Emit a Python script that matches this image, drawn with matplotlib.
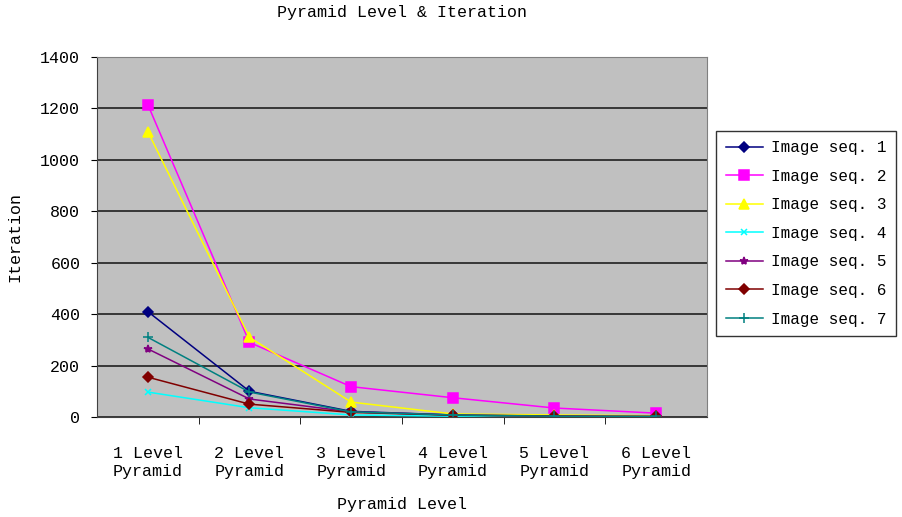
import matplotlib
matplotlib.use("Agg")
import matplotlib.pyplot as plt

# categories and series
levels = ["1 Level\nPyramid", "2 Level\nPyramid", "3 Level\nPyramid",
          "4 Level\nPyramid", "5 Level\nPyramid", "6 Level\nPyramid"]
seq1 = [410, 100, 22, 8, 4, 2]
seq2 = [1215, 290, 118, 75, 35, 15]
seq3 = [1110, 310, 58, 12, 8, 5]
seq4 = [97, 36, 8, 3, 2, 1]
seq5 = [265, 70, 20, 8, 4, 2]
seq6 = [155, 50, 18, 7, 3, 2]
seq7 = [310, 97, 20, 8, 3, 2]
names = ["Image seq. %d" % i for i in range(1, 8)]

series = [seq1, seq2, seq3, seq4, seq5, seq6, seq7]
colors = ["#000080", "#FF00FF", "#FFFF00", "#00FFFF", "#800080", "#800000", "#008080"]
markers = ["D", "s", "^", "x", "*", "D", "+"]
msizes = [5, 7, 7, 5, 6, 5, 7]

plt.rcParams['font.family'] = ['Liberation Mono', 'DejaVu Sans Mono']

fig = plt.figure(figsize=(9.03, 5.17), dpi=100)
ax = fig.add_axes([0.1074, 0.1934, 0.6755, 0.6963])
ax.set_facecolor("#C0C0C0")

x = list(range(len(levels)))
for vals, name, c, m, ms in zip(series, names, colors, markers, msizes):
    ax.plot(x, vals, color=c, marker=m, markersize=ms, linewidth=1.1,
            label=name, markeredgewidth=1.1)

ax.set_xlim(-0.5, len(levels) - 0.5)
ax.set_ylim(0, 1400)
ax.set_yticks(range(0, 1401, 200))
ax.set_xticks(x)
ax.set_xticklabels(levels, fontsize=12, linespacing=1.2)
ax.set_xticks([i + 0.5 for i in x[:-1]], minor=True)
ax.tick_params(axis="x", which="major", length=0, pad=21)
ax.tick_params(axis="x", which="minor", length=5, direction="out")
ax.tick_params(axis="y", labelsize=12, length=4, direction="out", pad=8)
ax.yaxis.grid(True, color="#202020", linewidth=1.2)
ax.set_axisbelow(True)
for s in ax.spines.values():
    s.set_color("#808080")
ax.spines["left"].set_color("#404040")
ax.spines["bottom"].set_color("#404040")

ax.set_title("Pyramid Level & Iteration", fontsize=12, pad=29)
ax.set_ylabel("Iteration", fontsize=12, labelpad=13)
ax.set_xlabel("Pyramid Level", fontsize=12, labelpad=13)

leg = ax.legend(loc="center left", bbox_to_anchor=(1.005, 0.51), fontsize=11.5,
                frameon=True, fancybox=False, edgecolor="black",
                handlelength=2.3, handletextpad=0.5, labelspacing=0.85,
                borderpad=0.6, borderaxespad=0.4)
leg.get_frame().set_linewidth(1.0)

fig.savefig("out.png", dpi=100)
